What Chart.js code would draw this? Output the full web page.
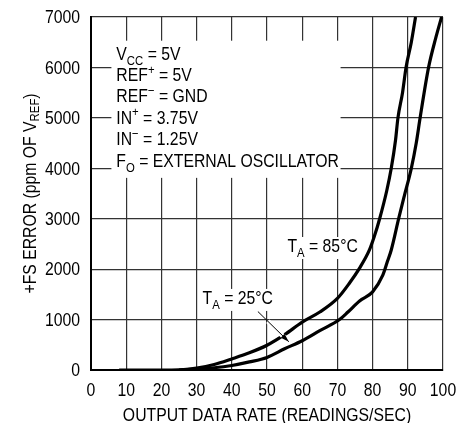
<!DOCTYPE html>
<html lang="en">
<head>
    <meta charset="UTF-8">
    <title>+FS Error vs Output Data Rate</title>
    <script src="https://cdn.jsdelivr.net/npm/chart.js"></script>
    <style>
        body {
            margin: 0;
            background: #fff;
        }
        #wrap {
            width: 461px;
            height: 423px;
        }
    </style>
</head>
<body>
    <div id="wrap"><canvas id="chart" width="461" height="423"></canvas></div>

    <script>
        // readings/sec vs ppm error
        const rate85 = [8, 20, 25, 30, 35, 40, 45, 50, 55, 60, 65, 70, 73.4, 76.3, 79.1, 80.5, 82, 84, 85.3, 86.5, 87.2, 88.5, 89.5, 91, 92.2];
        const err85 = [0, 0, 5, 40, 110, 220, 340, 490, 700, 950, 1150, 1420, 1720, 2020, 2380, 2650, 3000, 3550, 4000, 4550, 5000, 5500, 6000, 6500, 7000];

        const rate25 = [25, 30, 35, 40, 45, 50, 55, 60, 65, 70.6, 73, 76.3, 80, 82.9, 84.2, 85.3, 87.4, 89, 91, 92.4, 93.5, 95.9, 98, 99.6];
        const err25 = [0, 20, 45, 90, 160, 250, 420, 580, 780, 1000, 1150, 1370, 1550, 1880, 2150, 2380, 3000, 3450, 4000, 4500, 5000, 6000, 6600, 7000];

        const xTicks = [0, 10, 20, 30, 40, 50, 60, 70, 80, 90, 100];
        const yTicks = [0, 1000, 2000, 3000, 4000, 5000, 6000, 7000];

        const FONT = '"Liberation Sans", Arial, sans-serif';
        const FS = 19;
        const SX = 0.83; // squeeze to get the narrow Helvetica look

        function toPoints(xs, ys) {
            return xs.map((x, i) => ({ x: x, y: ys[i] }));
        }

        // text made of runs: {t}, {t, sub} or {t, sup}
        function richWidth(ctx, segs, size) {
            let w = 0;
            segs.forEach(s => {
                const sz = (s.sub || s.sup) ? size * 0.72 : size;
                ctx.font = sz + 'px ' + FONT;
                w += ctx.measureText(s.t).width;
            });
            return w * SX;
        }
        function drawRich(ctx, x, y, segs, size, subDrop) {
            const drop = subDrop === undefined ? size * 0.28 : subDrop;
            ctx.save();
            ctx.translate(x, y);
            ctx.scale(SX, 1);
            ctx.textAlign = 'left';
            let cx = 0;
            segs.forEach(s => {
                const sz = (s.sub || s.sup) ? size * 0.72 : size;
                ctx.font = sz + 'px ' + FONT;
                let dy = 0;
                if (s.sub) dy = drop;
                if (s.sup) dy = -size * 0.38;
                ctx.fillText(s.t, cx, dy);
                cx += ctx.measureText(s.t).width;
            });
            ctx.restore();
        }
        function drawNarrow(ctx, text, x, y, align, baseline) {
            ctx.save();
            ctx.font = FS + 'px ' + FONT;
            ctx.textBaseline = baseline;
            const w = ctx.measureText(text).width * SX;
            let left = x;
            if (align === 'right') left = x - w;
            if (align === 'center') left = x - w / 2;
            ctx.translate(left, y);
            ctx.scale(SX, 1);
            ctx.textAlign = 'left';
            ctx.fillText(text, 0, 0);
            ctx.restore();
        }

        const conditions = [
            [{ t: 'V' }, { t: 'CC', sub: true }, { t: ' = 5V' }],
            [{ t: 'REF' }, { t: '+', sup: true }, { t: ' = 5V' }],
            [{ t: 'REF' }, { t: '\u2212', sup: true }, { t: ' = GND' }],
            [{ t: 'IN' }, { t: '+', sup: true }, { t: ' = 3.75V' }],
            [{ t: 'IN' }, { t: '\u2212', sup: true }, { t: ' = 1.25V' }],
            [{ t: 'F' }, { t: 'O', sub: true }, { t: ' = EXTERNAL OSCILLATOR' }]
        ];

        const textPlugin = {
            id: 'texts',
            beforeDatasetsDraw(chart) {
                const ctx = chart.ctx;
                const xs = chart.scales.x, ys = chart.scales.y;
                ctx.save();
                ctx.fillStyle = '#fff';
                // white box behind the conditions block
                const l = xs.getPixelForValue(5.8), r = xs.getPixelForValue(70.9);
                const t = ys.getPixelForValue(6530), b = ys.getPixelForValue(3810);
                ctx.fillRect(l, t, r - l, b - t);
                ctx.restore();
            },
            afterDatasetsDraw(chart) {
                const ctx = chart.ctx;
                const xs = chart.scales.x, ys = chart.scales.y;
                const area = chart.chartArea;
                ctx.save();
                ctx.textBaseline = 'alphabetic';

                // arrow pointing at 25C curve
                const ax0 = xs.getPixelForValue(47.4), ay0 = ys.getPixelForValue(1160);
                const ax1 = xs.getPixelForValue(56.2), ay1 = ys.getPixelForValue(560);
                const ang = Math.atan2(ay1 - ay0, ax1 - ax0);
                ctx.strokeStyle = '#fff';
                ctx.lineWidth = 5;
                ctx.beginPath();
                ctx.moveTo(ax0 + 14 * Math.cos(ang), ay0 + 14 * Math.sin(ang));
                ctx.lineTo(ax1 - 4 * Math.cos(ang), ay1 - 4 * Math.sin(ang));
                ctx.stroke();
                ctx.strokeStyle = '#000';
                ctx.lineWidth = 1;
                ctx.beginPath();
                ctx.moveTo(ax0, ay0);
                ctx.lineTo(ax1, ay1);
                ctx.stroke();
                ctx.fillStyle = '#000';
                ctx.beginPath();
                ctx.moveTo(ax1, ay1);
                ctx.lineTo(ax1 - 9 * Math.cos(ang - 0.3), ay1 - 9 * Math.sin(ang - 0.3));
                ctx.lineTo(ax1 - 9 * Math.cos(ang + 0.3), ay1 - 9 * Math.sin(ang + 0.3));
                ctx.closePath();
                ctx.fill();

                // curve labels with white backing
                const labels = [
                    { x: 55.8, y: 2340, segs: [{ t: 'T' }, { t: 'A', sub: true }, { t: ' = 85\u00B0C' }] },
                    { x: 31.7, y: 1310, segs: [{ t: 'T' }, { t: 'A', sub: true }, { t: ' = 25\u00B0C' }] }
                ];
                labels.forEach(lb => {
                    const px = xs.getPixelForValue(lb.x), py = ys.getPixelForValue(lb.y);
                    const w = richWidth(ctx, lb.segs, FS);
                    ctx.fillStyle = '#fff';
                    ctx.fillRect(px - 2, py - 15, w + 4, 22);
                    ctx.fillStyle = '#000';
                    drawRich(ctx, px, py, lb.segs, FS);
                });

                // operating conditions
                ctx.fillStyle = '#000';
                const tx = xs.getPixelForValue(7.2);
                conditions.forEach((segs, i) => {
                    drawRich(ctx, tx, area.top + 42.5 + i * 21.4, segs, FS);
                });

                // tick labels, placed from the scales
                xs.ticks.forEach(tk => {
                    drawNarrow(ctx, String(tk.value), xs.getPixelForValue(tk.value), area.bottom + 25.5, 'center', 'alphabetic');
                });
                ys.ticks.forEach(tk => {
                    drawNarrow(ctx, String(tk.value), area.left - 11, ys.getPixelForValue(tk.value) + 1, 'right', 'middle');
                });

                // axis titles
                drawNarrow(ctx, 'OUTPUT DATA RATE (READINGS/SEC)', (area.left + area.right) / 2, 421, 'center', 'alphabetic');

                const ySegs = [{ t: '+FS ERROR (ppm OF V' }, { t: 'REF', sub: true }, { t: ')' }];
                const yw = richWidth(ctx, ySegs, FS);
                ctx.translate(36, (area.top + area.bottom) / 2);
                ctx.rotate(-Math.PI / 2);
                drawRich(ctx, -yw / 2, 0, ySegs, FS, 3);
                ctx.restore();
            }
        };

        const ctx = document.getElementById('chart').getContext('2d');
        const chart = new Chart(ctx, {
            type: 'line',
            data: {
                datasets: [
                    {
                        label: 'TA = 85C',
                        data: toPoints(rate85, err85),
                        borderColor: '#000',
                        borderWidth: 3.2,
                        pointRadius: 0,
                        cubicInterpolationMode: 'monotone',
                        fill: false
                    },
                    {
                        label: 'TA = 25C',
                        data: toPoints(rate25, err25),
                        borderColor: '#000',
                        borderWidth: 3.2,
                        pointRadius: 0,
                        cubicInterpolationMode: 'monotone',
                        fill: false
                    }
                ]
            },
            options: {
                responsive: false,
                animation: false,
                events: [],
                layout: {
                    padding: { top: 17, right: 18, left: 0, bottom: 0 }
                },
                plugins: {
                    legend: { display: false },
                    tooltip: { enabled: false }
                },
                scales: {
                    x: {
                        type: 'linear',
                        min: 0,
                        max: 100,
                        afterFit: s => { s.height = 53; },
                        afterBuildTicks: s => { s.ticks = xTicks.map(v => ({ value: v })); },
                        ticks: { display: false },
                        grid: { color: '#333', lineWidth: 1.2, drawTicks: false },
                        border: { color: '#000', width: 2 }
                    },
                    y: {
                        type: 'linear',
                        min: 0,
                        max: 7000,
                        afterFit: s => { s.width = 91; },
                        afterBuildTicks: s => { s.ticks = yTicks.map(v => ({ value: v })); },
                        ticks: { display: false },
                        grid: { color: '#333', lineWidth: 1.2, drawTicks: false },
                        border: { color: '#000', width: 2 }
                    }
                }
            },
            plugins: [textPlugin]
        });
    </script>
</body>
</html>
